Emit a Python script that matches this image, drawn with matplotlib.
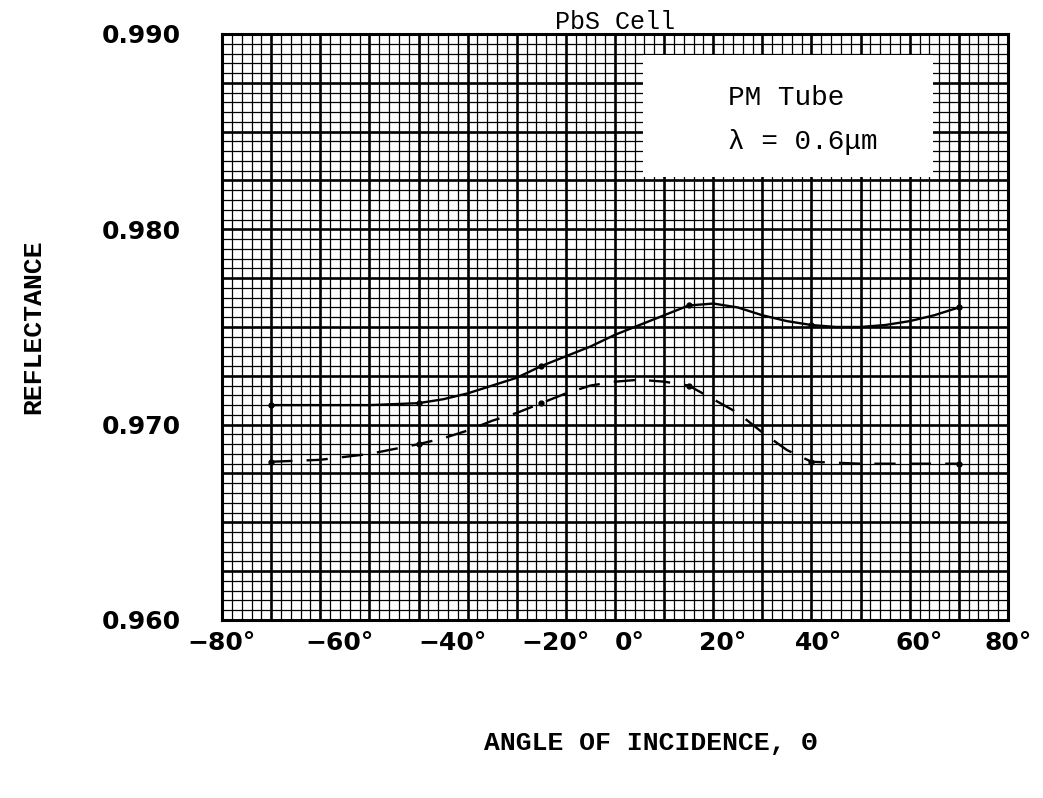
import numpy as np
import matplotlib
matplotlib.use("Agg")
import matplotlib.pyplot as plt
from matplotlib.patches import Rectangle

# measured points (angle of incidence in degrees, reflectance)
ANGLES = [-70, -40, -15, 15, 40, 70]
REFL_SOLID = [0.9710, 0.9711, 0.9730, 0.9761, 0.9751, 0.9760]
REFL_DASHED = [0.9681, 0.9690, 0.9711, 0.9720, 0.9681, 0.9680]

# hand-drawn curves through the points
SOLID_X = [-70, -60, -50, -40, -35, -30, -25, -20, -15, -10, -5, 0, 5, 10,
           15, 20, 25, 30, 35, 40, 45, 50, 55, 60, 65, 70]
SOLID_Y = [0.9710, 0.9710, 0.9710, 0.9711, 0.9713, 0.9716, 0.9720, 0.9724,
           0.9730, 0.9735, 0.9740, 0.9746, 0.9751, 0.9756, 0.9761, 0.9762,
           0.9760, 0.9756, 0.9753, 0.9751, 0.9750, 0.9750, 0.9751, 0.9753,
           0.9756, 0.9760]
DASHED_X = [-70, -60, -50, -40, -35, -30, -25, -20, -15, -10, -5, 0, 5, 10,
            15, 20, 25, 30, 35, 40, 50, 60, 70]
DASHED_Y = [0.9681, 0.9682, 0.9685, 0.9690, 0.9693, 0.9697, 0.9702, 0.9706,
            0.9711, 0.9716, 0.9720, 0.9722, 0.9723, 0.9722, 0.9720, 0.9713,
            0.9706, 0.9696, 0.9687, 0.9681, 0.9680, 0.9680, 0.9680]

# typed axis labels (the typewriter did not land exactly on the grid lines)
XTICK_POS = [-80, -56, -33, -12, 3, 22, 41.5, 62, 80]
XTICK_LABELS = ["\u221280\u00b0", "\u221260\u00b0", "\u221240\u00b0",
                "\u221220\u00b0", "0\u00b0", "20\u00b0", "40\u00b0",
                "60\u00b0", "80\u00b0"]
YTICKS = [0.960, 0.970, 0.980, 0.990]
YTICK_LABELS = ["0.960", "0.970", "0.980", "0.990"]

MONO = "Liberation Mono"
SANS = "DejaVu Sans"

fig = plt.figure(figsize=(10.43, 7.98), dpi=100)
ax = fig.add_axes([0.2129, 0.2231, 0.7535, 0.7343])

ax.set_xlim(-80, 80)
ax.set_ylim(0.960, 0.990)

# graph paper: 2 deg / 0.0005 fine lines, 10 deg / 0.0025 heavy lines
gx = np.arange(-80, 81, 2)
gy = np.arange(0, 61) * 0.0005 + 0.960
ax.vlines(gx[gx % 10 != 0], 0.960, 0.990, color="black", lw=0.9, zorder=0.5)
ax.vlines(gx[gx % 10 == 0], 0.960, 0.990, color="black", lw=1.9, zorder=0.5)
ax.hlines(gy[np.arange(61) % 5 != 0], -80, 80, color="black", lw=0.9,
          zorder=0.5)
ax.hlines(gy[np.arange(61) % 5 == 0], -80, 80, color="black", lw=1.9,
          zorder=0.5)

ax.set_xticks(XTICK_POS, XTICK_LABELS)
ax.set_yticks(YTICKS, YTICK_LABELS)
ax.tick_params(which="both", length=0)
ax.tick_params(axis="y", pad=30)
ax.tick_params(axis="x", pad=8)
for lab in ax.get_xticklabels() + ax.get_yticklabels():
    lab.set_fontfamily(SANS)
    lab.set_fontweight("bold")
    lab.set_fontsize(18)
for sp in ax.spines.values():
    sp.set_linewidth(2.2)

# white label patch over the grid
ax.add_patch(Rectangle((5.7, 0.98269), 59.1, 0.00624, facecolor="white",
                       edgecolor="none", zorder=1))
ax.text(23.0, 0.98673, "PM Tube", family=MONO, fontsize=20, ha="left",
        va="center", zorder=3)
ax.text(23.0, 0.98448, "\u03bb = 0.6\u03bcm", family=MONO, fontsize=20,
        ha="left", va="center", zorder=3)

ax.plot(SOLID_X, SOLID_Y, color="black", lw=1.7, zorder=2)
ax.plot(DASHED_X, DASHED_Y, color="black", lw=1.7, ls=(0, (9, 6)), zorder=2)
ax.plot(ANGLES, REFL_SOLID, "o", color="black", ms=3.5, zorder=2)
ax.plot(ANGLES, REFL_DASHED, "o", color="black", ms=3.5, zorder=2)

ax.set_title("PbS Cell", family=MONO, fontsize=18, pad=3)
ax.set_xlabel("ANGLE OF INCIDENCE, \u0398", family=MONO, fontsize=19,
              fontweight="bold")
ax.set_ylabel("REFLECTANCE", family=MONO, fontsize=19, fontweight="bold")
ax.xaxis.set_label_coords(0.545, -0.19)
ax.yaxis.set_label_coords(-0.225, 0.5)

fig.savefig("out.png", dpi=100, facecolor="white")
